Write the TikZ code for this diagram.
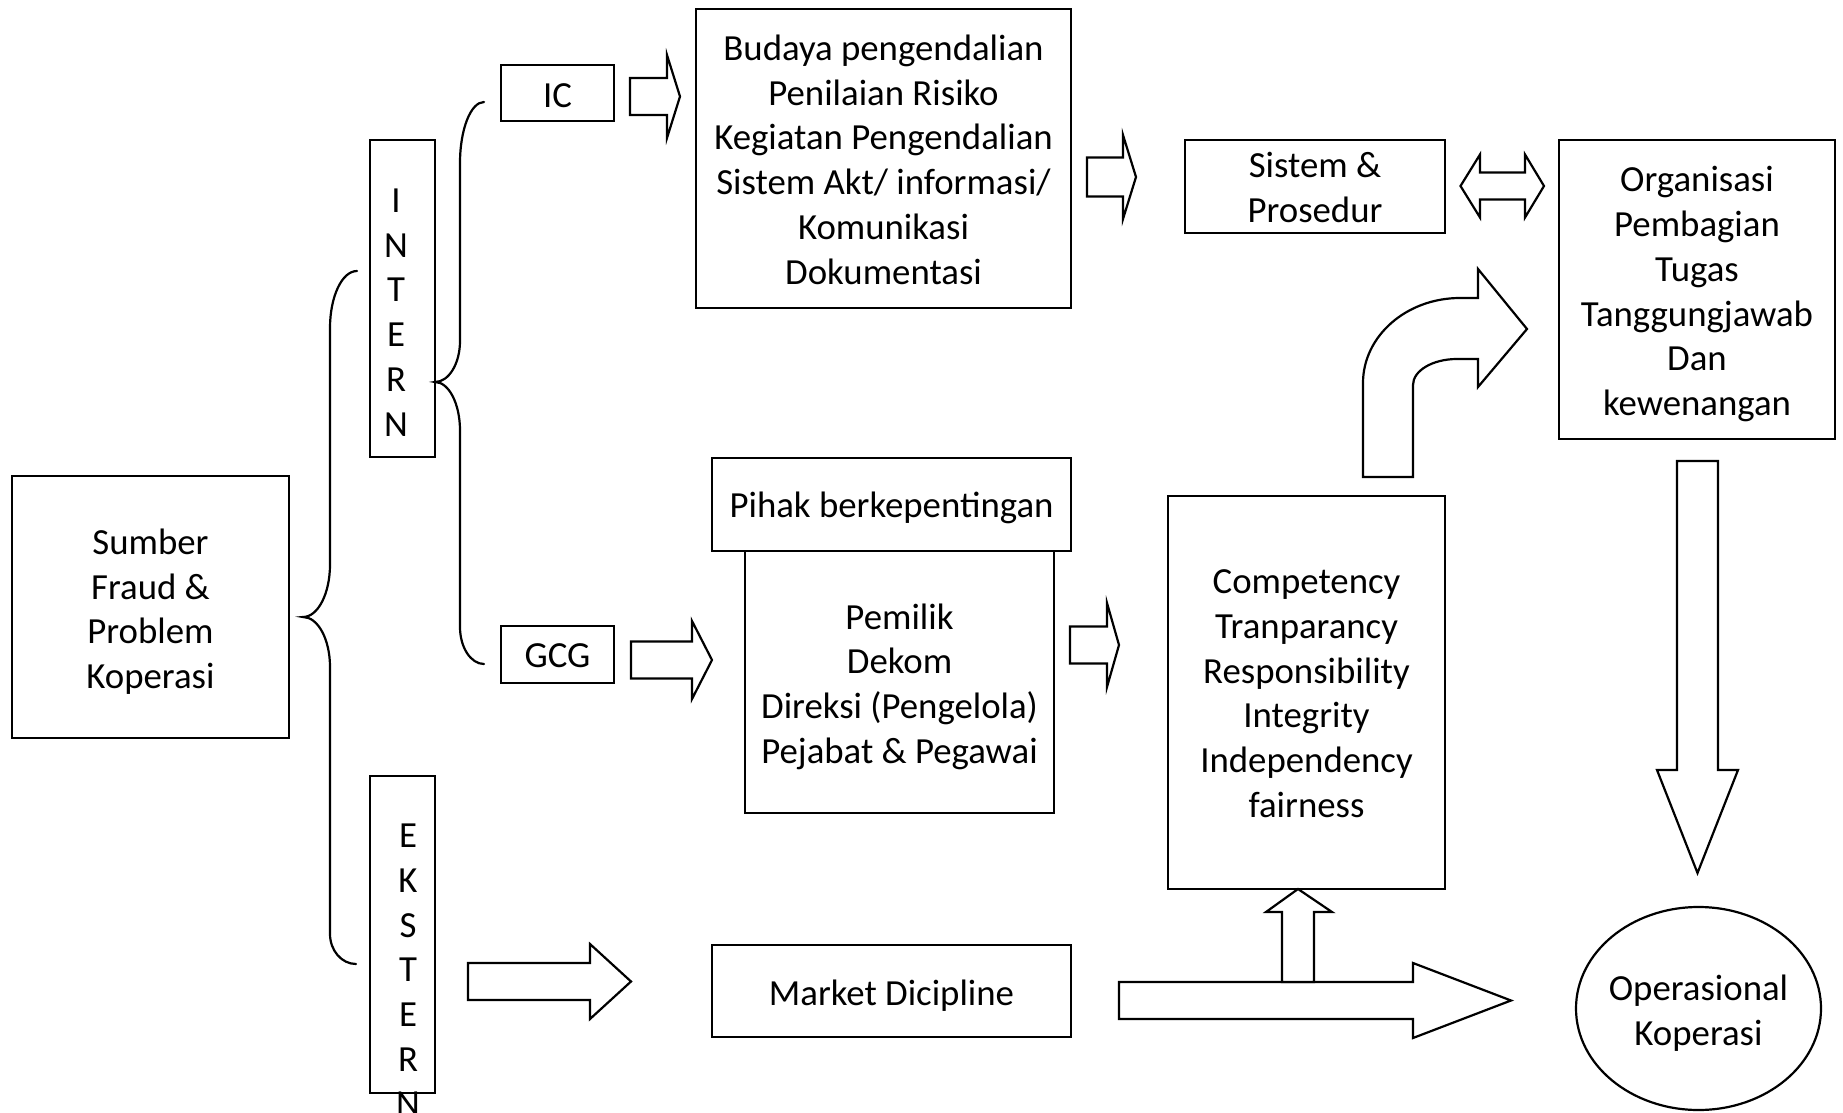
\documentclass[tikz,border=0pt]{standalone}
\usepackage{fontspec}
\setmainfont{Carlito}
\usetikzlibrary{shapes.geometric}

% right-pointing block arrow: tail x, head base x, tip x, centre y, shaft half-width, head half-width
\newcommand\rightblock[6]{%
  \draw[blk] (#1,#4-#5) -- (#2,#4-#5) -- (#2,#4-#6) -- (#3,#4)
    -- (#2,#4+#6) -- (#2,#4+#5) -- (#1,#4+#5) -- cycle;}

\begin{document}
\begin{tikzpicture}[x=0.5pt,y=-0.5pt,line width=1.1pt,
  txt/.style={font=\fontsize{18.4}{22.4}\selectfont},
  box/.style={draw,rectangle,inner sep=0pt,outer sep=0pt},
  lbl/.style={align=center,inner sep=0pt,txt},
  blk/.style={draw,fill=white,line join=miter},
  brace/.style={draw,line cap=round},
  letters/.style={align=center,inner sep=0pt,font=\fontsize{18.4}{22.35}\selectfont}]

\useasboundingbox[fill=white] (0,0) rectangle (1843,1113);

% ---- boxes and their texts ----
\node[box,minimum width=138.5pt,minimum height=131pt] (sumber) at (150.5,607) {};
\node[lbl,yshift=-2.35pt] (sumbertxt) at (sumber) {Sumber\\Fraud \&\\Problem\\Koperasi};

\node[box,minimum width=32.5pt,minimum height=158.5pt] (intern) at (402.5,298.5) {};
\node[letters] (interntxt) at (396,312.5) {I\\N\\T\\E\\R\\N};

\node[box,minimum width=32.5pt,minimum height=158.5pt] (ekstern) at (402.5,934.5) {};
\node[letters] (eksterntxt) at (408,970) {E\\K\\S\\T\\E\\R\\N};

\node[box,minimum width=56.5pt,minimum height=28pt] (ic) at (557.5,93) {};
\node[lbl,yshift=-1.2pt] (ictxt) at (ic) {IC};
\node[box,minimum width=56.5pt,minimum height=28.5pt] (gcg) at (557.5,654.5) {};
\node[lbl,yshift=-0.6pt] (gcgtxt) at (gcg) {GCG};

\node[box,minimum width=187.5pt,minimum height=149.5pt] (ctrl) at (883.5,158.5) {};
\node[lbl,yshift=-0.6pt] (ctrltxt) at (ctrl)
  {Budaya pengendalian\\Penilaian Risiko\\Kegiatan Pengendalian\\Sistem Akt/ informasi/\\Komunikasi\\Dokumentasi};

\node[box,minimum width=130pt,minimum height=46.5pt] (sispro) at (1315,186.5) {};
\node[lbl,yshift=-0.6pt] (sisprotxt) at (sispro) {Sistem \&\\Prosedur};

\node[box,minimum width=138pt,minimum height=149.5pt] (org) at (1697,289.5) {};
\node[lbl,yshift=-2.35pt] (orgtxt) at (org)
  {Organisasi\\Pembagian\\Tugas\\Tanggungjawab\\Dan\\kewenangan};

\node[box,minimum width=179.5pt,minimum height=46.5pt] (pihak) at (891.5,504.5) {};
\node[lbl,yshift=-1.8pt] (pihaktxt) at (pihak) {Pihak berkepentingan};

\node[box,minimum width=154.5pt,minimum height=131pt] (organ) at (899.5,682) {};
\node[lbl,yshift=-2.35pt] (organtxt) at (organ)
  {Pemilik\\Dekom\\Direksi (Pengelola)\\Pejabat \& Pegawai};

\node[box,minimum width=138.5pt,minimum height=196.5pt] (prinsip) at (1306.5,692.5) {};
\node[lbl,yshift=-0.6pt] (prinsiptxt) at (prinsip)
  {Competency\\Tranparancy\\Responsibility\\Integrity\\Independency\\fairness};

\node[box,minimum width=179.5pt,minimum height=46pt] (market) at (891.5,991) {};
\node[lbl,yshift=-2.35pt] (markettxt) at (market) {Market Dicipline};

\node[draw,ellipse,minimum width=122.5pt,minimum height=101.5pt,inner sep=0pt,
  outer sep=0pt] (oper) at (1698.5,1008.5) {};
\node[lbl,yshift=-2.35pt] (opertxt) at (oper) {Operasional\\Koperasi};

% ---- braces ----
\draw[brace] (357,271) .. controls (342,271) and (330,296.5) .. (330,328)
  -- (330,564.5) .. controls (330,593.5) and (318,617) .. (303,617)
  .. controls (318,617) and (330,639.4) .. (330,667)
  -- (330,934) .. controls (330,950.5) and (341.6,964) .. (356,964);

\draw[brace] (484,102) .. controls (470.8,102) and (460,129.3) .. (460,163)
  -- (460,341) .. controls (460,363.6) and (448.8,382) .. (435,382)
  .. controls (448.8,382) and (460,403.7) .. (460,430.5)
  -- (460,627) .. controls (460,647.4) and (470.8,664) .. (484,664);

% ---- block arrows ----
\rightblock{630}{667}{680}{96.5}{18.5}{41.5}
\rightblock{631}{692}{712}{660}{18.5}{39}
\rightblock{1087}{1123}{1136}{177}{19.5}{42}
\rightblock{1070}{1107}{1119}{645}{18.5}{42}
\rightblock{468}{590}{631}{981.5}{18.5}{37.5}
\rightblock{1119}{1413}{1511}{1000.5}{18.5}{37.5}

% double-headed arrow between Sistem & Prosedur and Organisasi
\draw[blk] (1460.5,186) -- (1480,154.5) -- (1480,172.5) -- (1525,172.5) -- (1525,154.5)
  -- (1544,186) -- (1525,217.5) -- (1525,199.5) -- (1480,199.5) -- (1480,217.5) -- cycle;

% upward arrow into the principles box
\draw[blk] (1282,982) -- (1282,912) -- (1266,912) -- (1298,889) -- (1332,912)
  -- (1314,912) -- (1314,982) -- cycle;

% downward arrow to Operasional Koperasi
\draw[blk] (1677,461) -- (1718,461) -- (1718,770) -- (1738,770) -- (1697.5,873)
  -- (1657,770) -- (1677,770) -- cycle;

% bent arrow up and right towards Organisasi
\draw[blk] (1363,477) -- (1363,383) .. controls (1363,336) and (1406.5,298) .. (1460,298)
  -- (1478,298) -- (1478,269) -- (1527,329) -- (1478,387) -- (1478,359) -- (1457,359)
  .. controls (1432.7,359) and (1413,370.6) .. (1413,385) -- (1413,477) -- cycle;

\end{tikzpicture}
\end{document}
